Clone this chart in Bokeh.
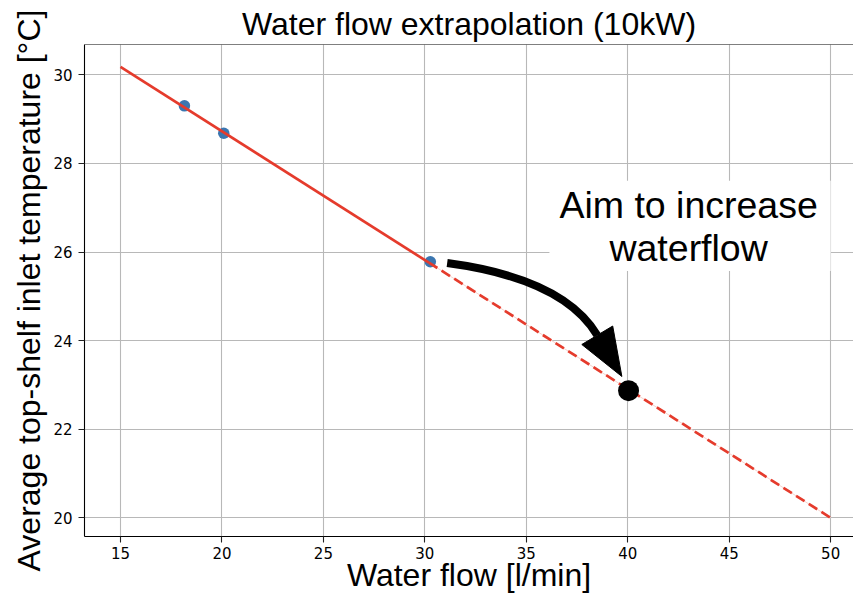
import math
from bokeh.plotting import figure
from bokeh.models import Range1d, Label, Span, FixedTicker
from bokeh.embed import file_html
from bokeh.resources import INLINE

# ---- data ----
flow_measured = [18.15, 20.09, 30.27]
temp_measured = [29.30, 28.68, 25.78]
fit_flow_solid = [15.0, 30.2]
fit_temp_solid = [30.18, 25.76]
fit_flow_dash = [30.2, 50.0]
fit_temp_dash = [25.76, 20.0]
target_flow = [40.04]
target_temp = [22.87]
x_ticks = [15, 20, 25, 30, 35, 40, 45, 50]
y_ticks = [20, 22, 24, 26, 28, 30]

title_text = "Water flow extrapolation (10kW)"
x_label = "Water flow [l/min]"
y_label = "Average top-shelf inlet temperature [°C]"
note_lines = ["Aim to increase", "waterflow"]

# ---- layout (canvas pixels) ----
W, H = 853, 595
FL, FT, FB, FR = 84, 44, 536, 853
SX, SY = 20.29, 44.3          # pixels per data unit
X0 = 13.226
X1 = X0 + (FR - FL) / SX
Y1 = 30.684
Y0 = Y1 - (FB - FT) / SY
sx, sy = SX, SY

# ---- annotation placement (data coords) ----
arrow_start = (31.10, 25.75)
arrow_ctrl = (36.83, 25.40)
arrow_tip = (39.71, 23.19)
note_x = 43.0
note_y = [27.07, 26.10]
box = (36.14, 50.0, 25.57, 27.61)  # left, right, bottom, top

FONT = "Liberation Sans"

p = figure(width=W, height=H, x_range=Range1d(X0, X1), y_range=Range1d(Y0, Y1),
           output_backend="svg", toolbar_location=None,
           min_border_left=FL, min_border_right=W - FR, min_border_top=FT,
           min_border_bottom=H - FB)

p.title.text = title_text
p.title.text_font = FONT
p.title.text_font_size = "32px"
p.title.text_font_style = "normal"
p.title.align = "center"
p.title.standoff = 6
p.title.text_color = "black"

p.outline_line_color = None
p.background_fill_color = "white"
p.border_fill_color = "white"

for ax, ticks, lab in ((p.xaxis, x_ticks, x_label), (p.yaxis, y_ticks, y_label)):
    ax.ticker = FixedTicker(ticks=ticks)
    ax.axis_label = lab
    ax.axis_label_text_font = FONT
    ax.axis_label_text_font_size = "32px"
    ax.axis_label_text_font_style = "normal"
    ax.axis_label_text_color = "black"
    ax.major_label_text_font = "DejaVu Sans"
    ax.major_label_text_font_size = "15px"
    ax.major_label_text_color = "black"
    ax.major_tick_out = 6
    ax.major_tick_in = 0
    ax.major_tick_line_width = 1.1
    ax.minor_tick_line_color = None
    ax.axis_line_color = "black"
    ax.axis_line_width = 1.1
    ax.major_tick_line_color = "#222222"
p.xaxis.major_label_standoff = 4
p.yaxis.major_label_standoff = 6
p.xaxis.axis_label_standoff = -5
p.yaxis.axis_label_standoff = 3

p.xgrid.ticker = FixedTicker(ticks=x_ticks)
p.ygrid.ticker = FixedTicker(ticks=y_ticks)
p.grid.grid_line_color = "#b8b8b8"
p.grid.grid_line_width = 1.1

p.add_layout(Span(location=Y1, dimension="width", line_color="black", line_width=1.1))

# white text box
p.quad(left=[box[0]], right=[box[1]], bottom=[box[2]], top=[box[3]],
       fill_color="white", line_color=None)

RED = "#e53b2c"
p.scatter(flow_measured, temp_measured, size=11.5, color="#3b76b0", line_color=None)
p.line(fit_flow_dash, fit_temp_dash, line_color="#f8d2cc", line_width=1)
p.line(fit_flow_solid, fit_temp_solid, line_color=RED, line_width=2.7)
p.line(fit_flow_dash, fit_temp_dash, line_color=RED, line_width=2.7, line_dash="10 5")
p.scatter(target_flow, target_temp, size=21, color="black", line_color=None)

# curved arrow
def to_px(pt):
    return ((pt[0] - X0) * sx, (Y1 - pt[1]) * sy)

def to_data(q):
    return (q[0] / sx + X0, Y1 - q[1] / sy)

C = to_px(arrow_ctrl)
T = to_px(arrow_tip)
dx, dy = T[0] - C[0], T[1] - C[1]
n = math.hypot(dx, dy)
ux, uy = dx / n, dy / n
HL, HW = 48.0, 18.0
Bp = (T[0] - HL * ux, T[1] - HL * uy)
c1 = to_data((Bp[0] + HW * uy, Bp[1] - HW * ux))
c2 = to_data((Bp[0] - HW * uy, Bp[1] + HW * ux))
B = to_data(Bp)
p.quadratic(x0=[arrow_start[0]], y0=[arrow_start[1]], x1=[B[0]], y1=[B[1]],
            cx=[arrow_ctrl[0]], cy=[arrow_ctrl[1]], line_color="black", line_width=8)
p.patch([arrow_tip[0], c1[0], c2[0]], [arrow_tip[1], c1[1], c2[1]],
        fill_color="black", line_color="black", line_width=1)

for txt, yy in zip(note_lines, note_y):
    p.add_layout(Label(x=note_x, y=yy, text=txt, text_align="center",
                       text_baseline="alphabetic", text_font=FONT,
                       text_font_size="37.5px", text_color="black"))

open("out.html", "w").write(file_html(p, INLINE))
